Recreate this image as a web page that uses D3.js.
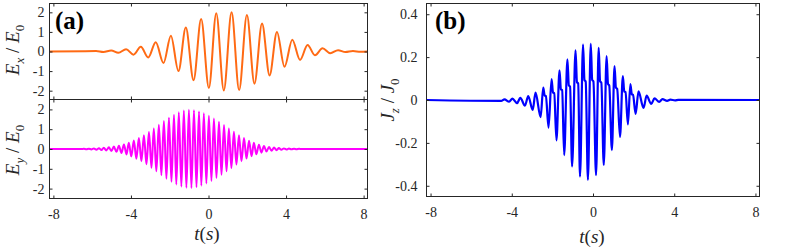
<!DOCTYPE html>
<html>
<head>
<meta charset="utf-8">
<script src="https://cdn.jsdelivr.net/npm/d3@7"></script>
<style>
  body { margin: 0; background: #fff; }
  svg { display: block; }
</style>
</head>
<body>
<div id="chart"></div>
<script>
// Data //
// Ex : slow oscillation, extrema of the orange curve
const exPeakT = [-5.80, -5.02, -4.25, -3.49, -2.72, -1.94, -1.17, -0.38, 0.40, 1.19, 1.98, 2.76, 3.53, 4.32, 5.11, 5.88, 6.68, 7.45];
const exPeakV = [0.02, 0.05, 0.12, 0.24, 0.47, 0.81, 1.22, 1.66, 1.95, 2.00, 1.86, 1.43, 1.00, 0.60, 0.33, 0.16, 0.07, 0.02];
const exTroughT = [-5.42, -4.65, -3.87, -3.11, -2.32, -1.55, -0.77, 0.02, 0.79, 1.58, 2.37, 3.15, 3.92, 4.72, 5.49, 6.28, 7.06, 7.84];
const exTroughV = [-0.03, -0.07, -0.16, -0.31, -0.59, -1.00, -1.47, -1.86, -1.99, -1.97, -1.64, -1.22, -0.78, -0.43, -0.19, -0.09, -0.03, -0.01];

// Ey : fast oscillation, extrema of the magenta curve
const eyPeakT = [-6.43, -6.17, -5.91, -5.65, -5.40, -5.14, -4.88, -4.62, -4.36, -4.11, -3.85, -3.59, -3.33, -3.07,
  -2.82, -2.56, -2.30, -2.04, -1.78, -1.53, -1.27, -1.01, -0.75, -0.49, -0.24, 0.02, 0.28, 0.54, 0.80, 1.05,
  1.31, 1.57, 1.83, 2.09, 2.34, 2.60, 2.86, 3.12, 3.38, 3.63, 3.89, 4.15, 4.41, 4.67];
const eyPeakV = [0.01, 0.015, 0.025, 0.04, 0.06, 0.085, 0.12, 0.17, 0.23, 0.32, 0.43, 0.55, 0.69, 0.86,
  1.04, 1.22, 1.41, 1.58, 1.73, 1.85, 1.94, 1.98, 1.96, 1.90, 1.80, 1.68, 1.54, 1.38, 1.21, 1.04,
  0.87, 0.69, 0.55, 0.42, 0.31, 0.22, 0.15, 0.10, 0.07, 0.045, 0.03, 0.02, 0.012, 0.007];
const eyTroughT = [-6.56, -6.30, -6.04, -5.78, -5.52, -5.27, -5.01, -4.75, -4.49, -4.23, -3.98, -3.72, -3.46, -3.20,
  -2.94, -2.69, -2.43, -2.17, -1.91, -1.66, -1.40, -1.14, -0.88, -0.62, -0.37, -0.11, 0.15, 0.41, 0.67, 0.93,
  1.18, 1.44, 1.70, 1.96, 2.22, 2.47, 2.73, 2.99, 3.25, 3.51, 3.76, 4.02, 4.28, 4.54, 4.80];
const eyTroughV = [-0.006, -0.012, -0.02, -0.032, -0.05, -0.072, -0.10, -0.145, -0.20, -0.275, -0.375, -0.49, -0.62, -0.775,
  -0.95, -1.13, -1.32, -1.50, -1.66, -1.79, -1.90, -1.96, -1.97, -1.93, -1.85, -1.74, -1.61, -1.46, -1.30, -1.13,
  -0.955, -0.78, -0.62, -0.485, -0.365, -0.265, -0.185, -0.125, -0.085, -0.058, -0.038, -0.025, -0.016, -0.01, -0.005];

// Jz : current, with a shoulder after each large peak
const jzT = [-4.52, -4.36, -4.13, -3.97, -3.74, -3.58, -3.35, -3.19, -2.97, -2.83, -2.58,
  -2.45, -2.38, -2.32, -2.19,
  -2.04, -1.97, -1.91, -1.80,
  -1.65, -1.58, -1.52, -1.42,
  -1.26, -1.19, -1.13, -1.03,
  -0.86, -0.79, -0.73, -0.64,
  -0.49, -0.42, -0.36, -0.25,
  -0.11, -0.04, 0.02, 0.15,
  0.28, 0.35, 0.41, 0.53,
  0.67, 0.74, 0.80, 0.93,
  1.06, 1.13, 1.19, 1.33,
  1.47, 1.54, 1.60, 1.72,
  1.84, 1.91, 1.97, 2.10,
  2.24, 2.49, 2.64, 2.87, 3.03, 3.26, 3.42, 3.65, 3.81, 4.04, 4.20];
const jzV = [-0.004, 0.003, -0.008, 0.006, -0.015, 0.010, -0.026, 0.018, -0.046, 0.034, -0.080,
  0.058, 0.021, 0.019, -0.129,
  0.097, 0.035, 0.032, -0.188,
  0.138, 0.050, 0.046, -0.257,
  0.190, 0.068, 0.063, -0.310,
  0.232, 0.083, 0.077, -0.357,
  0.258, 0.093, 0.086, -0.372,
  0.262, 0.094, 0.087, -0.350,
  0.243, 0.087, 0.081, -0.303,
  0.205, 0.074, 0.068, -0.234,
  0.158, 0.057, 0.052, -0.172,
  0.112, 0.040, 0.037, -0.114,
  0.074, 0.027, 0.024, -0.065,
  0.040, -0.037, 0.020, -0.018, 0.008, -0.009, 0.004, -0.004, 0.002, -0.002, 0.001];

const xTicks = [-8, -4, 0, 4, 8];
const eTicks = [-2, -1, 0, 1, 2];
const jTicks = [-0.4, -0.2, 0, 0.2, 0.4];
const tRange = [-8.2, 8.2];

const serif = "'Liberation Serif', 'Times New Roman', Times, serif";
const ink = "#262626";

// Build [t, v] lists
function pairs(ts, vs) { return ts.map((t, i) => [t, vs[i]]); }
function series(parts) {
  const pts = parts.flat().sort((a, b) => a[0] - b[0]);
  return [[tRange[0], 0], ...pts, [tRange[1], 0]];
}
const exData = series([pairs(exPeakT, exPeakV), pairs(exTroughT, exTroughV)]);
const eyData = series([pairs(eyPeakT, eyPeakV), pairs(eyTroughT, eyTroughV)]);
const jzData = series([pairs(jzT, jzV)]);

/* Canvas */
const svg = d3.select("#chart").append("svg")
  .attr("width", 789)
  .attr("height", 249);

svg.append("rect").attr("width", 789).attr("height", 249).attr("fill", "#fff");

// style every axis the same way
function styleAxis(sel) {
  sel.select(".domain").remove();
  sel.selectAll(".tick line").attr("stroke", ink);
  sel.selectAll(".tick text")
    .attr("font-family", serif)
    .attr("font-size", "14px")
    .attr("fill", ink);
}

/* Panel helper */
function drawPanel(p) {
  const x = d3.scaleLinear().domain(tRange).range([p.left, p.right]);
  const y = d3.scaleLinear().domain(p.yDomain).range([p.bottom, p.top]);
  const g = svg.append("g");

  // curve
  g.append("path")
    .datum(p.data)
    .attr("fill", "none")
    .attr("stroke", p.color)
    .attr("stroke-width", p.width)
    .attr("stroke-linejoin", "round")
    .attr("d", d3.line().x(d => x(d[0])).y(d => y(d[1])).curve(d3.curveMonotoneX));

  // bottom axis (ticks point inward)
  g.append("g")
    .attr("transform", `translate(0,${p.bottom})`)
    .call(d3.axisBottom(x).tickValues(xTicks).tickSizeInner(-3).tickSizeOuter(0).tickPadding(11)
      .tickFormat(d => p.showX ? String(d) : ""))
    .call(styleAxis);

  // top axis
  g.append("g")
    .attr("transform", `translate(0,${p.top})`)
    .call(d3.axisTop(x).tickValues(xTicks).tickSizeInner(-3).tickSizeOuter(0).tickFormat(""))
    .call(styleAxis);

  // left axis
  g.append("g")
    .attr("transform", `translate(${p.left},0)`)
    .call(d3.axisLeft(y).tickValues(p.yTicks).tickSizeInner(-3).tickSizeOuter(0).tickPadding(p.yPad)
      .tickFormat(d => String(d)))
    .call(styleAxis);

  // right axis
  g.append("g")
    .attr("transform", `translate(${p.right},0)`)
    .call(d3.axisRight(y).tickValues(p.yTicks).tickSizeInner(-3).tickSizeOuter(0).tickFormat(""))
    .call(styleAxis);

  // box
  g.append("rect")
    .attr("x", p.left).attr("y", p.top)
    .attr("width", p.right - p.left).attr("height", p.bottom - p.top)
    .attr("fill", "none")
    .attr("stroke", ink)
    .attr("stroke-width", 1);

  return { x, y };
}

drawPanel({ left: 49.5, right: 367.5, top: 3.5, bottom: 99.5, yDomain: [-2.45, 2.45], yTicks: eTicks, yPad: 5,
  data: exData, color: "#ff6a14", width: 2, showX: false });
drawPanel({ left: 49.5, right: 367.5, top: 99.5, bottom: 198.5, yDomain: [-2.5, 2.5], yTicks: eTicks, yPad: 5,
  data: eyData, color: "#ff00ff", width: 2, showX: true });
drawPanel({ left: 426.5, right: 759.5, top: 3.5, bottom: 196.5, yDomain: [-0.45, 0.45], yTicks: jTicks, yPad: 9,
  data: jzData, color: "#0000ff", width: 2.2, showX: true });

/* Axis labels */
function yLabel(cx, cy, main, sub1, main2, sub2) {
  const t = svg.append("text")
    .attr("transform", `translate(${cx},${cy}) rotate(-90)`)
    .attr("text-anchor", "middle")
    .attr("font-family", serif)
    .attr("font-style", "italic")
    .attr("fill", ink)
    .attr("font-size", "19px");
  t.append("tspan").text(main);
  t.append("tspan").attr("font-size", "13px").attr("dy", 5).text(sub1);
  t.append("tspan").attr("dy", -5).attr("font-style", "normal").text(" / ");
  t.append("tspan").text(main2);
  t.append("tspan").attr("font-size", "13px").attr("font-style", "normal").attr("dy", 5).text(sub2);
}
yLabel(19, 50, "E", "x", "E", "0");
yLabel(19, 150, "E", "y", "E", "0");
yLabel(394, 100, "J", "z", "J", "0");

function xLabel(cx, by) {
  const t = svg.append("text")
    .attr("x", cx).attr("y", by)
    .attr("text-anchor", "middle")
    .attr("font-family", serif)
    .attr("font-style", "italic")
    .attr("fill", ink)
    .attr("font-size", "19px");
  t.append("tspan").text("t");
  t.append("tspan").attr("font-style", "normal").text("(");
  t.append("tspan").text("s");
  t.append("tspan").attr("font-style", "normal").text(")");
}
xLabel(207, 240);
xLabel(592, 243);

/* Panel tags */
svg.append("text").attr("x", 55).attr("y", 29)
  .attr("font-family", serif).attr("font-weight", "bold").attr("font-size", "25px")
  .attr("fill", "#000").text("(a)");
svg.append("text").attr("x", 435).attr("y", 29)
  .attr("font-family", serif).attr("font-weight", "bold").attr("font-size", "25px")
  .attr("fill", "#000").text("(b)");
</script>
</body>
</html>
